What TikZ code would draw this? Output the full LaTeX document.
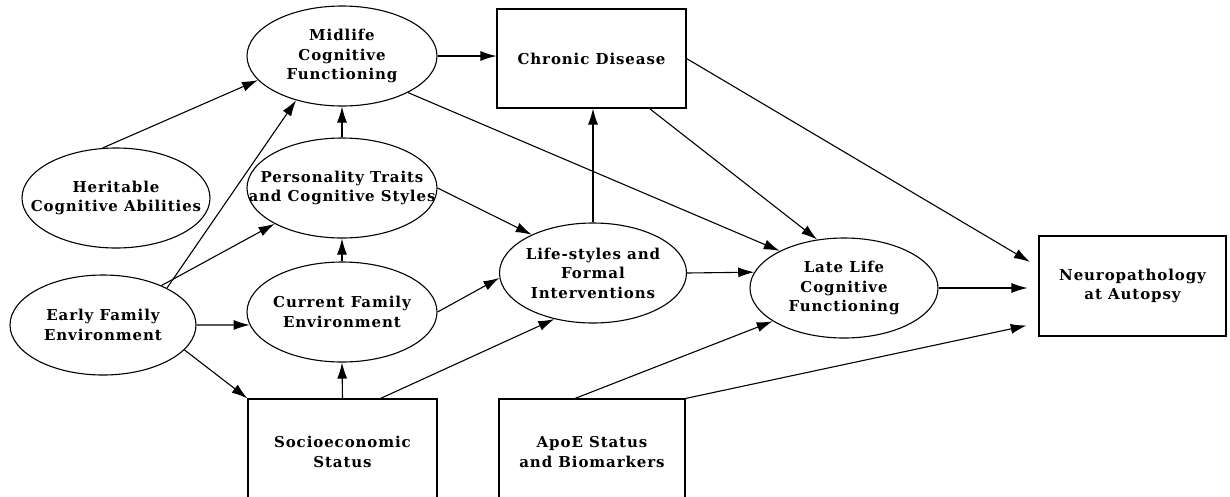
\documentclass[tikz,border=0pt]{standalone}
\usepackage{fontspec}
\setmainfont{DejaVu Serif}[LetterSpace=6]
\usetikzlibrary{arrows.meta,shapes.geometric}
\begin{document}
\begin{tikzpicture}[x=1pt,y=-1pt,
  every node/.style={font=\bfseries\fontsize{15}{19.5}\selectfont, align=center, inner sep=0pt},
  ell/.style={ellipse, draw, line width=1.1pt, minimum width=190pt, minimum height=100pt, inner xsep=-40pt, inner ysep=-20pt},
  box/.style={rectangle, draw, line width=1.1pt, minimum width=189pt, minimum height=97pt},
  arr/.style={-{Latex[length=16pt,width=10pt]}, line width=1.1pt}]
\clip (0,0) rectangle (1230,496);
\node[ell] (mid) at (342,56) {Midlife\\Cognitive\\Functioning};
\node[box, minimum height=99pt] (chr) at (591.5,58.5) {Chronic Disease};
\node[ell, minimum width=188pt] (her) at (116,198) {Heritable\\Cognitive Abilities};
\node[ell] (per) at (342,188) {Personality Traits\\and Cognitive Styles};
\node[ell, minimum width=186pt] (early) at (103,325) {Early Family\\Environment};
\node[ell] (cur) at (342,312) {Current Family\\Environment};
\node[ell, minimum width=187pt] (life) at (593,273) {Life-styles and\\Formal\\Interventions};
\node[ell, minimum width=188pt] (late) at (844,288) {Late Life\\Cognitive\\Functioning};
\node[box, minimum width=187pt, minimum height=100pt] (neu) at (1132.5,286) {Neuropathology\\at Autopsy};
\node[box, minimum height=106pt] (ses) at (342.5,452) {Socioeconomic\\Status};
\node[box, minimum width=186pt, minimum height=106pt] (apo) at (592,452) {ApoE Status\\and Biomarkers};

\draw[arr] (her.105) -- (mid.196);
\draw[arr] (early.30) -- (mid.224);
\draw[arr] (early.34) -- (per.208);
\draw[arr] (early.east) -- (cur.188);
\draw[arr] (early.-17) -- (ses.north west);
\draw[arr] (ses.north) -- (cur.south);
\draw[arr] (cur.north) -- (per.south);
\draw[arr] (per.north) -- (mid.south);
\draw[arr] ([xshift=38pt]ses.north) -- (life.230);
\draw[arr] (cur.east) -- (life.183);
\draw[arr] (per.east) -- (life.148);
\draw[arr] (mid.-29) -- (late.150);
\draw[arr] (mid.east) -- (chr.west |- mid.east);
\draw[arr] (life.north) -- (life.north |- chr.south);
\draw[arr] (life.east) -- (late.170);
\draw[arr] ([xshift=58pt]chr.south) -- (late.119);
\draw[arr, shorten >=10pt] (chr.east) -- ([yshift=19pt]neu.west);
\draw[arr, shorten >=11pt] (late.east) -- (neu.west |- late.east);
\draw[arr, shorten >=12pt] (apo.north east) -- ([yshift=-37pt]neu.west);
\draw[arr] ([xshift=-17pt]apo.north) -- (late.205);
\end{tikzpicture}
\end{document}
